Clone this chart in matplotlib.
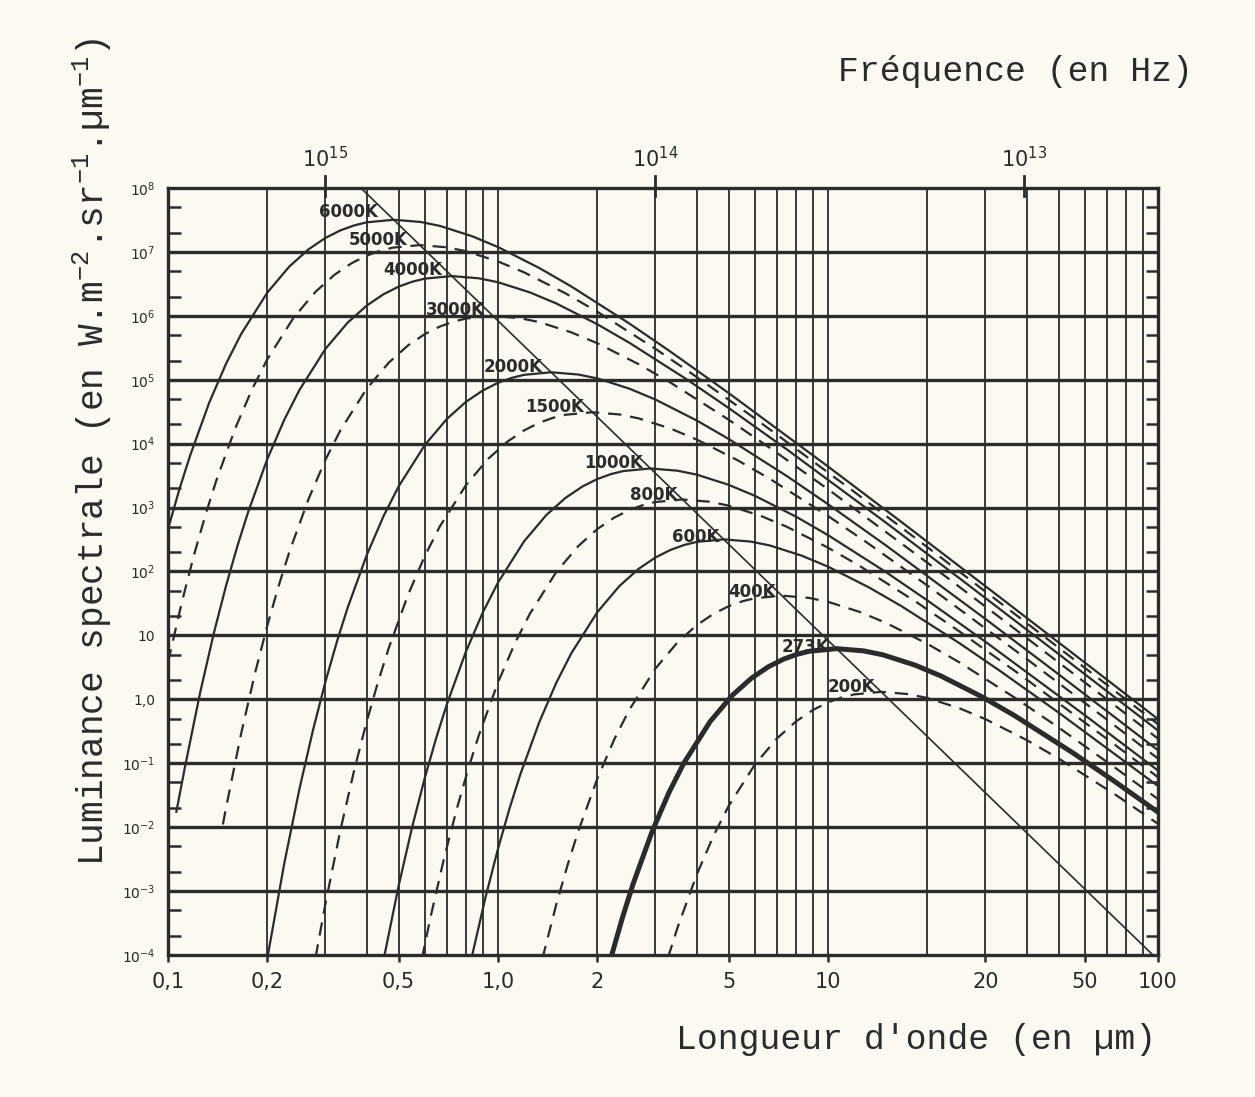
import matplotlib.pyplot as plt
from matplotlib.ticker import FixedLocator, NullLocator

plt.rcParams['mathtext.default'] = 'regular'

INK = '#2b2b2b'
PAPER = '#fbf9f1'
MONO = 'Liberation Mono'

# wavelength (um) and log10 of spectral radiance (W m-2 sr-1 um-1) along each curve
lam_6000 = [0.1, 0.1083, 0.1167, 0.1333, 0.15, 0.1667, 0.2, 0.2333, 0.2667, 0.3, 0.3333, 0.3667, 0.4,
            0.483, 0.5833, 0.6667, 0.8333, 1.0, 1.333, 1.667, 2.5, 3.333, 5.0, 10.0, 16.67, 33.33, 66.67, 100.0]
logl_6000 = [2.662, 3.289, 3.815, 4.641, 5.253, 5.718, 6.364, 6.773, 7.041, 7.219, 7.338, 7.415, 7.463,
             7.503, 7.468, 7.407, 7.247, 7.076, 6.749, 6.460, 5.880, 5.439, 4.792, 3.643, 2.777, 1.589, 0.393, -0.309]

lam_5000 = [0.1, 0.11, 0.12, 0.13, 0.14, 0.16, 0.18, 0.2, 0.24, 0.28, 0.32, 0.36, 0.4, 0.44, 0.48,
            0.5796, 0.7, 0.8, 1.0, 1.2, 1.6, 2.0, 3.0, 4.0, 6.0, 12.0, 20.0, 40.0, 80.0, 100.0]
logl_5000 = [0.579, 1.508, 2.266, 2.893, 3.419, 4.245, 4.857, 5.322, 5.968, 6.377, 6.645, 6.823, 6.942, 7.019, 7.067,
             7.107, 7.072, 7.011, 6.851, 6.680, 6.353, 6.064, 5.484, 5.043, 4.396, 3.247, 2.381, 1.193, -0.003, -0.389]

lam_4000 = [0.106, 0.1125, 0.125, 0.1375, 0.15, 0.1625, 0.175, 0.2, 0.225, 0.25, 0.3, 0.35, 0.4, 0.45, 0.5, 0.55,
            0.6, 0.7245, 0.875, 1.0, 1.25, 1.5, 2.0, 2.5, 3.75, 5.0, 7.5, 15.0, 25.0, 50.0, 100.0]
logl_4000 = [-1.759, -1.066, 0.094, 1.023, 1.781, 2.408, 2.934, 3.760, 4.372, 4.837, 5.483, 5.892, 6.160, 6.338,
             6.457, 6.534, 6.582, 6.622, 6.587, 6.526, 6.366, 6.195, 5.868, 5.579, 4.999, 4.558, 3.911, 2.762,
             1.896, 0.708, -0.488]

lam_3000 = [0.1467, 0.15, 0.1667, 0.1833, 0.2, 0.2167, 0.2333, 0.2667, 0.3, 0.3333, 0.4, 0.4667, 0.5333, 0.6,
            0.6667, 0.7333, 0.8, 0.966, 1.1667, 1.333, 1.667, 2.0, 2.667, 3.333, 5.0, 6.667, 10.0, 20.0, 33.33,
            66.67, 100.0]
logl_3000 = [-1.957, -1.690, -0.530, 0.399, 1.157, 1.784, 2.310, 3.136, 3.748, 4.213, 4.859, 5.268, 5.536, 5.714,
             5.833, 5.910, 5.958, 5.998, 5.963, 5.902, 5.742, 5.571, 5.244, 4.955, 4.375, 3.934, 3.287, 2.138,
             1.272, 0.084, -0.615]

lam_2000 = [0.2, 0.225, 0.25, 0.275, 0.3, 0.325, 0.35, 0.4, 0.45, 0.5, 0.6, 0.7, 0.8, 0.9, 1.0, 1.1, 1.2, 1.449,
            1.75, 2.0, 2.5, 3.0, 4.0, 5.0, 7.5, 10.0, 15.0, 30.0, 50.0, 100.0]
logl_2000 = [-4.051, -2.571, -1.411, -0.482, 0.276, 0.903, 1.429, 2.255, 2.867, 3.332, 3.978, 4.387, 4.655, 4.833,
             4.952, 5.029, 5.077, 5.117, 5.082, 5.021, 4.861, 4.690, 4.363, 4.074, 3.494, 3.053, 2.406, 1.257,
             0.391, -0.797]

lam_1500 = [0.28, 0.3, 0.3333, 0.3667, 0.4, 0.4333, 0.4667, 0.5333, 0.6, 0.6667, 0.8, 0.9333, 1.0667, 1.2,
            1.3333, 1.4667, 1.6, 1.932, 2.333, 2.667, 3.333, 4.0, 5.333, 6.667, 10.0, 13.33, 20.0, 40.0, 66.67, 100.0]
logl_1500 = [-4.038, -3.196, -2.036, -1.107, -0.349, 0.278, 0.804, 1.630, 2.242, 2.707, 3.353, 3.762, 4.030, 4.208,
             4.327, 4.404, 4.452, 4.492, 4.457, 4.396, 4.236, 4.065, 3.738, 3.449, 2.869, 2.428, 1.781, 0.632,
             -0.234, -0.927]

lam_1000 = [0.45, 0.5, 0.55, 0.6, 0.65, 0.7, 0.8, 0.9, 1.0, 1.2, 1.4, 1.6, 1.8, 2.0, 2.2, 2.4, 2.898, 3.5, 4.0,
            5.0, 6.0, 8.0, 10.0, 15.0, 20.0, 30.0, 60.0, 100.0]
logl_1000 = [-4.076, -2.916, -1.987, -1.229, -0.602, -0.076, 0.750, 1.362, 1.827, 2.473, 2.882, 3.150, 3.328, 3.447,
             3.524, 3.572, 3.612, 3.577, 3.516, 3.356, 3.185, 2.858, 2.569, 1.989, 1.548, 0.901, -0.248, -1.114]

lam_800 = [0.5875, 0.625, 0.6875, 0.75, 0.8125, 0.875, 1.0, 1.125, 1.25, 1.5, 1.75, 2.0, 2.25, 2.5, 2.75, 3.0,
           3.622, 4.375, 5.0, 6.25, 7.5, 10.0, 12.5, 18.75, 25.0, 37.5, 75.0, 100.0]
logl_800 = [-4.064, -3.401, -2.472, -1.714, -1.087, -0.561, 0.265, 0.877, 1.342, 1.988, 2.397, 2.665, 2.843, 2.962,
            3.039, 3.087, 3.127, 3.092, 3.031, 2.871, 2.700, 2.373, 2.084, 1.504, 1.063, 0.416, -0.733, -1.219]

lam_600 = [0.8333, 0.9167, 1.0, 1.0833, 1.1667, 1.3333, 1.5, 1.6667, 2.0, 2.3333, 2.6667, 3.0, 3.3333, 3.6667,
           4.0, 4.83, 5.8333, 6.6667, 8.3333, 10.0, 13.333, 16.667, 25.0, 33.333, 50.0, 100.0]
logl_600 = [-4.025, -3.096, -2.338, -1.711, -1.185, -0.359, 0.253, 0.718, 1.364, 1.773, 2.041, 2.219, 2.338, 2.415,
            2.463, 2.503, 2.468, 2.407, 2.247, 2.076, 1.749, 1.460, 0.880, 0.439, -0.208, -1.357]

lam_400 = [1.3625, 1.5, 1.625, 1.75, 2.0, 2.25, 2.5, 3.0, 3.5, 4.0, 4.5, 5.0, 5.5, 6.0, 7.245, 8.75, 10.0, 12.5,
           15.0, 20.0, 25.0, 37.5, 50.0, 75.0, 100.0]
logl_400 = [-4.061, -3.219, -2.592, -2.066, -1.240, -0.628, -0.163, 0.483, 0.892, 1.160, 1.338, 1.457, 1.534, 1.582,
            1.622, 1.587, 1.526, 1.366, 1.195, 0.868, 0.579, -0.001, -0.442, -1.089, -1.561]

lam_273 = [2.198, 2.381, 2.564, 2.930, 3.297, 3.663, 4.396, 5.128, 5.861, 6.593, 7.326, 8.059, 8.791, 10.615,
           12.82, 14.652, 18.315, 21.978, 29.304, 36.63, 54.945, 73.26, 100.0]
logl_273 = [-4.048, -3.421, -2.895, -2.069, -1.457, -0.992, -0.346, 0.063, 0.331, 0.509, 0.628, 0.705, 0.753,
            0.793, 0.758, 0.697, 0.537, 0.366, 0.039, -0.250, -0.830, -1.271, -1.765]

lam_200 = [3.275, 3.5, 4.0, 4.5, 5.0, 6.0, 7.0, 8.0, 9.0, 10.0, 11.0, 12.0, 14.49, 17.5, 20.0, 25.0, 30.0, 40.0,
           50.0, 75.0, 100.0]
logl_200 = [-4.040, -3.571, -2.745, -2.133, -1.668, -1.022, -0.613, -0.345, -0.167, -0.048, 0.029, 0.077, 0.117,
            0.082, 0.021, -0.139, -0.310, -0.637, -0.926, -1.506, -1.947]

# locus of the maxima (Wien)
lam_wien = [0.39, 100.0]
logl_wien = [7.967, -4.077]

temp_labels = ['6000K', '5000K', '4000K', '3000K', '2000K', '1500K',
               '1000K', '800K', '600K', '400K', '273K', '200K']

x_tick_pos = [0.1, 0.2, 0.5, 1.0, 2.0, 5.0, 10.0, 30.0, 60.0, 100.0]
x_tick_text = ['0,1', '0,2', '0,5', '1,0', '2', '5', '10', '20', '50', '100']

y_tick_exp = [8, 7, 6, 5, 4, 3, 2, 1, 0, -1, -2, -3, -4]
y_tick_text = ['$10^{8}$', '$10^{7}$', '$10^{6}$', '$10^{5}$', '$10^{4}$', '$10^{3}$', '$10^{2}$',
               '10', '1,0', '$10^{-1}$', '$10^{-2}$', '$10^{-3}$', '$10^{-4}$']

freq_tick_lam = [0.3, 3.0, 39.3]
freq_tick_text = ['$10^{15}$', '$10^{14}$', '$10^{13}$']


def draw_curve(ax, lam, logl, style):
    lum = [10 ** v for v in logl]
    if style == 'dashed':
        ax.plot(lam, lum, color=INK, lw=1.6, ls=(0, (6, 4)))
    elif style == 'thick':
        ax.plot(lam, lum, color=INK, lw=3.6, solid_capstyle='round')
    else:
        ax.plot(lam, lum, color=INK, lw=1.6)


def main():
    fig = plt.figure(figsize=(12.55, 10.97), dpi=100, facecolor=PAPER)
    ax = fig.add_axes([168 / 1255, 1 - 955 / 1097, 990 / 1255, 767 / 1097])
    ax.set_facecolor(PAPER)
    ax.set_xscale('log')
    ax.set_yscale('log')
    ax.set_xlim(0.1, 100)
    ax.set_ylim(1e-4, 1e8)

    # log grid: thin verticals, heavy decade horizontals
    for d in (0.1, 1.0, 10.0):
        for m in range(1, 10):
            x = m * d
            if 0.1 < x < 100:
                ax.axvline(x, color=INK, lw=1.3, zorder=1)
    for k in range(-3, 8):
        ax.axhline(10.0 ** k, color=INK, lw=2.4, zorder=1)

    curves = [
        (lam_6000, logl_6000, 'solid'),
        (lam_5000, logl_5000, 'dashed'),
        (lam_4000, logl_4000, 'solid'),
        (lam_3000, logl_3000, 'dashed'),
        (lam_2000, logl_2000, 'solid'),
        (lam_1500, logl_1500, 'dashed'),
        (lam_1000, logl_1000, 'solid'),
        (lam_800, logl_800, 'dashed'),
        (lam_600, logl_600, 'solid'),
        (lam_400, logl_400, 'dashed'),
        (lam_273, logl_273, 'thick'),
        (lam_200, logl_200, 'dashed'),
    ]
    for lam, logl, style in curves:
        draw_curve(ax, lam, logl, style)

    ax.plot(lam_wien, [10 ** v for v in logl_wien], color=INK, lw=1.2)

    # temperature tags sit just left of the maxima line
    tag_pos = [(0.351, 7.625), (0.433, 7.19), (0.553, 6.72), (0.741, 6.094), (1.11, 5.20), (1.488, 4.578),
               (2.246, 3.703), (2.97, 3.203), (3.98, 2.547), (5.885, 1.672), (8.52, 0.8125), (11.74, 0.1875)]
    for txt, (x, e) in zip(temp_labels, tag_pos):
        ax.text(x, 10 ** e, txt, fontsize=12, fontweight='bold', color=INK,
                ha='center', va='center', zorder=5)

    for side in ax.spines.values():
        side.set_linewidth(2.4)
        side.set_color(INK)

    ax.xaxis.set_major_locator(FixedLocator(x_tick_pos))
    ax.set_xticklabels(x_tick_text)
    ax.xaxis.set_minor_locator(NullLocator())
    ax.tick_params(axis='x', which='major', direction='out', length=5, width=1.8,
                   colors=INK, labelsize=15, pad=7)

    ax.yaxis.set_major_locator(FixedLocator([10.0 ** k for k in y_tick_exp]))
    ax.set_yticklabels(y_tick_text)
    minor_y = [m * 10.0 ** k for k in range(-4, 8) for m in (2, 5)]
    ax.yaxis.set_minor_locator(FixedLocator(minor_y))
    ax.tick_params(axis='y', which='major', length=0, labelsize=10, colors=INK, pad=9)
    ax.tick_params(axis='y', which='minor', left=True, right=True, direction='in',
                   length=9, width=1.8, color=INK)

    # frequency scale along the top edge
    tr = ax.get_xaxis_transform()
    for x, txt in zip(freq_tick_lam, freq_tick_text):
        ax.plot([x, x], [0.99, 1.016], transform=tr, color=INK, lw=2.0, clip_on=False)
        ax.text(x, 1.022, txt, transform=tr, fontsize=15, color=INK, ha='center', va='bottom')

    fig.text(1015 / 1255, 1 - 72 / 1097, 'Fréquence (en Hz)', family=MONO, fontsize=25,
             color=INK, ha='center', va='center')
    fig.text(916 / 1255, 1 - 1040 / 1097, "Longueur d'onde (en µm)", family=MONO, fontsize=25,
             color=INK, ha='center', va='center')
    fig.text(92 / 1255, 1 - 452 / 1097, 'Luminance spectrale (en W.m$^{-2}$.sr$^{-1}$.µm$^{-1}$)',
             family=MONO, fontsize=26, color=INK, rotation=90, ha='center', va='center')

    fig.savefig('out.png', dpi=100, facecolor=PAPER)


if __name__ == '__main__':
    main()
